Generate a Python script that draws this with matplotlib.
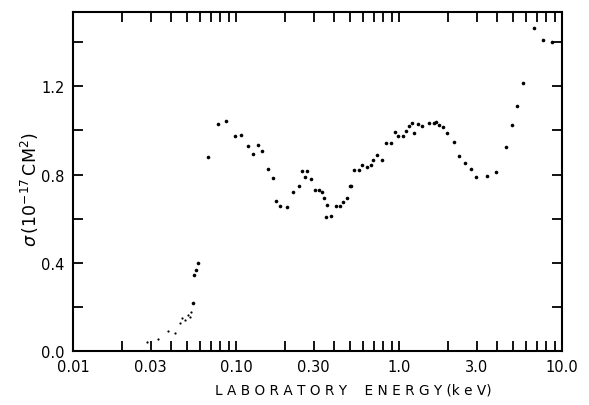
import matplotlib
matplotlib.use("Agg")
import matplotlib.pyplot as plt
from matplotlib.ticker import LogLocator, FixedLocator, NullFormatter
import numpy as np

# Energy (keV) and cross section (1e-17 cm^2)
energy_low = [0.0284, 0.0331, 0.0381, 0.0423, 0.0451, 0.0466, 0.0486, 0.0505,
              0.0520, 0.0527]
sigma_low = [0.042, 0.054, 0.089, 0.080, 0.127, 0.148, 0.142, 0.163, 0.153, 0.175]

energy = [0.0543, 0.0552, 0.0566, 0.0584, 0.0673, 0.0773, 0.0874, 0.0984, 0.1076,
          0.1178, 0.1271, 0.1359, 0.1451, 0.1574, 0.1676, 0.1762, 0.1865, 0.2057,
          0.2222, 0.2439, 0.2558, 0.2736, 0.2633, 0.2867, 0.3068, 0.3237, 0.3380,
          0.3478, 0.3630, 0.3560, 0.3843, 0.4104, 0.4370, 0.4563, 0.4785, 0.497,
          0.509, 0.5313, 0.5686, 0.5905, 0.6366, 0.6771, 0.6906, 0.7375, 0.789,
          0.832, 0.897, 0.946, 0.991, 1.054, 1.099, 1.147, 1.198, 1.240, 1.301,
          1.391, 1.52, 1.63, 1.69, 1.77, 1.86, 1.96, 2.16, 2.35, 2.54, 2.75, 2.97,
          3.46, 3.96, 4.54, 4.93, 5.28, 5.80, 6.75, 7.67, 8.65]
sigma = [0.216, 0.345, 0.369, 0.399, 0.880, 1.028, 1.042, 0.977, 0.980,
         0.928, 0.893, 0.933, 0.906, 0.825, 0.783, 0.679, 0.659, 0.652,
         0.723, 0.748, 0.815, 0.815, 0.790, 0.779, 0.729, 0.732, 0.723,
         0.695, 0.664, 0.608, 0.612, 0.658, 0.659, 0.676, 0.692, 0.750,
         0.750, 0.822, 0.822, 0.845, 0.836, 0.844, 0.865, 0.890, 0.866,
         0.945, 0.943, 0.992, 0.975, 0.974, 0.999, 1.022, 1.034, 0.989, 1.028,
         1.020, 1.034, 1.034, 1.037, 1.026, 1.014, 0.989, 0.946, 0.884, 0.851, 0.825, 0.788,
         0.795, 0.813, 0.924, 1.025, 1.112, 1.215, 1.466, 1.410, 1.400]

x_ticks = [0.01, 0.03, 0.10, 0.30, 1.0, 3.0, 10.0]
x_tick_labels = ["0.01", "0.03", "0.10", "0.30", "1.0", "3.0", "10.0"]
y_ticks = [0.0, 0.4, 0.8, 1.2]
y_tick_labels = ["0.0", "0.4", "0.8", "1.2"]
y_minor = [0.2, 0.6, 1.0, 1.4]

fig = plt.figure(figsize=(5.89, 4.06), dpi=100)
ax = fig.add_axes([73/589, 1 - 352/406, (562-73)/589, (352-13)/406])

ax.plot(energy_low, sigma_low, linestyle="none", marker="o", markersize=1.6,
        color="black", markeredgewidth=0)
ax.plot(energy, sigma, linestyle="none", marker="o", markersize=2.6,
        color="black", markeredgewidth=0)

ax.set_xscale("log")
ax.set_xlim(0.01, 10.0)
ax.set_ylim(0.0, 1.537)

ax.xaxis.set_major_locator(FixedLocator(x_ticks))
ax.set_xticklabels(x_tick_labels)
ax.xaxis.set_minor_locator(LogLocator(base=10, subs=np.arange(1, 10)))
ax.xaxis.set_minor_formatter(NullFormatter())
ax.set_yticks(y_ticks)
ax.set_yticklabels(y_tick_labels)
ax.yaxis.set_minor_locator(FixedLocator(y_minor))

ax.tick_params(which="both", direction="in", top=True, right=True,
               length=7, width=1.3, labelsize=10.5, pad=6)

for s in ax.spines.values():
    s.set_linewidth(1.5)

fig.text(353/589, 1 - 391/406, "L A B O R A T O R Y    E N E R G Y (k e V)",
         fontsize=9.8, ha="center", va="center")
fig.text(30/589, 1 - 190/406, r"$\sigma\,(10^{-17}\,\mathrm{CM}^2)$",
         fontsize=12.5, ha="center", va="center", rotation=90)

fig.savefig("out.png", dpi=100)
